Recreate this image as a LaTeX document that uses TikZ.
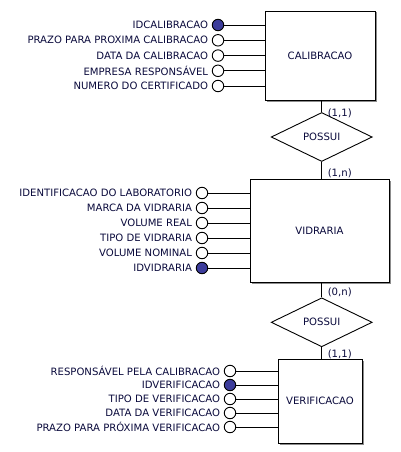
\documentclass[tikz,border=0pt]{standalone}
\usepackage{fontspec}
\setmainfont{DejaVu Sans}
\usetikzlibrary{shapes.geometric,shadows}
\definecolor{txtnavy}{RGB}{10,10,60}
\definecolor{keyblue}{RGB}{60,60,155}
\begin{document}
\begin{tikzpicture}[x=1pt, y=-1pt, line width=0.9pt,
    every node/.style={font=\fontsize{10.1}{12}\selectfont, text=txtnavy},
    ent/.style={draw, fill=white, inner sep=0pt, drop shadow={shadow xshift=1.5pt, shadow yshift=-1.5pt, fill=black!45, opacity=1}},
    rel/.style={draw, diamond, fill=white, inner sep=0pt, minimum width=101pt, minimum height=49pt},
    attr/.style={draw, circle, fill=white, inner sep=0pt, minimum size=11.5pt, label distance=0pt},
    keyattr/.style={attr, fill=keyblue}]
    \useasboundingbox (0,0) rectangle (400,452);

     \node[ent, minimum width=110pt, minimum height=89pt] (calib) at (320,55.5) {CALIBRACAO};
        \node[keyattr, label=left:IDCALIBRACAO] (ca1) at (218,25) {};
        \node[attr, label=left:PRAZO PARA PROXIMA CALIBRACAO] (ca2) at (218,40.3) {};
        \node[attr, label=left:DATA DA CALIBRACAO] (ca3) at (218,55.6) {};
        \node[attr, label=left:EMPRESA RESPONSÁVEL] (ca4) at (218,70.8) {};
        \node[attr, label=left:NUMERO DO CERTIFICADO] (ca5) at (218,86) {};
            \draw (ca1) to (ca1 -| calib.west);
            \draw (ca2) to (ca2 -| calib.west);
            \draw (ca3) to (ca3 -| calib.west);
            \draw (ca4) to (ca4 -| calib.west);
            \draw (ca5) to (ca5 -| calib.west);

     \node[ent, minimum width=139pt, minimum height=103pt] (vidr) at (319.5,230.5) {VIDRARIA};
        \node[attr, label=left:IDENTIFICACAO DO LABORATORIO] (va1) at (202,193) {};
        \node[attr, label=left:MARCA DA VIDRARIA] (va2) at (202,208) {};
        \node[attr, label=left:VOLUME REAL] (va3) at (202,223) {};
        \node[attr, label=left:TIPO DE VIDRARIA] (va4) at (202,238) {};
        \node[attr, label=left:VOLUME NOMINAL] (va5) at (202,253) {};
        \node[keyattr, label=left:IDVIDRARIA] (va6) at (202,268) {};
            \draw (va1) to (va1 -| vidr.west);
            \draw (va2) to (va2 -| vidr.west);
            \draw (va3) to (va3 -| vidr.west);
            \draw (va4) to (va4 -| vidr.west);
            \draw (va5) to (va5 -| vidr.west);
            \draw (va6) to (va6 -| vidr.west);

     \node[ent, minimum width=84pt, minimum height=84pt] (verif) at (320,401) {VERIFICACAO};
        \node[attr, label=left:RESPONSÁVEL PELA CALIBRACAO] (ve1) at (230,371) {};
        \node[keyattr, label=left:IDVERIFICACAO] (ve2) at (230,385) {};
        \node[attr, label=left:TIPO DE VERIFICACAO] (ve3) at (230,399) {};
        \node[attr, label=left:DATA DA VERIFICACAO] (ve4) at (230,413) {};
        \node[attr, label=left:PRAZO PARA PRÓXIMA VERIFICACAO] (ve5) at (230,427) {};
            \draw (ve1) to (ve1 -| verif.west);
            \draw (ve2) to (ve2 -| verif.west);
            \draw (ve3) to (ve3 -| verif.west);
            \draw (ve4) to (ve4 -| verif.west);
            \draw (ve5) to (ve5 -| verif.west);

     \node[rel] (poss1) at (321.7,137) {POSSUI};
     \node[rel] (poss2) at (321.7,322.3) {POSSUI};
        \draw (calib.south -| poss1.north) to (poss1.north);
        \draw (poss1.south) to (poss1.south |- vidr.north);
        \draw (vidr.south -| poss2.north) to (poss2.north);
        \draw (poss2.south) to (poss2.south |- verif.north);

        \node[anchor=west] (card1) at (324,113) {(1,1)};
        \node[anchor=west] (card2) at (324,173) {(1,n)};
        \node[anchor=west] (card3) at (324,292) {(0,n)};
        \node[anchor=west] (card4) at (324,354) {(1,1)};
\end{tikzpicture}
\end{document}
